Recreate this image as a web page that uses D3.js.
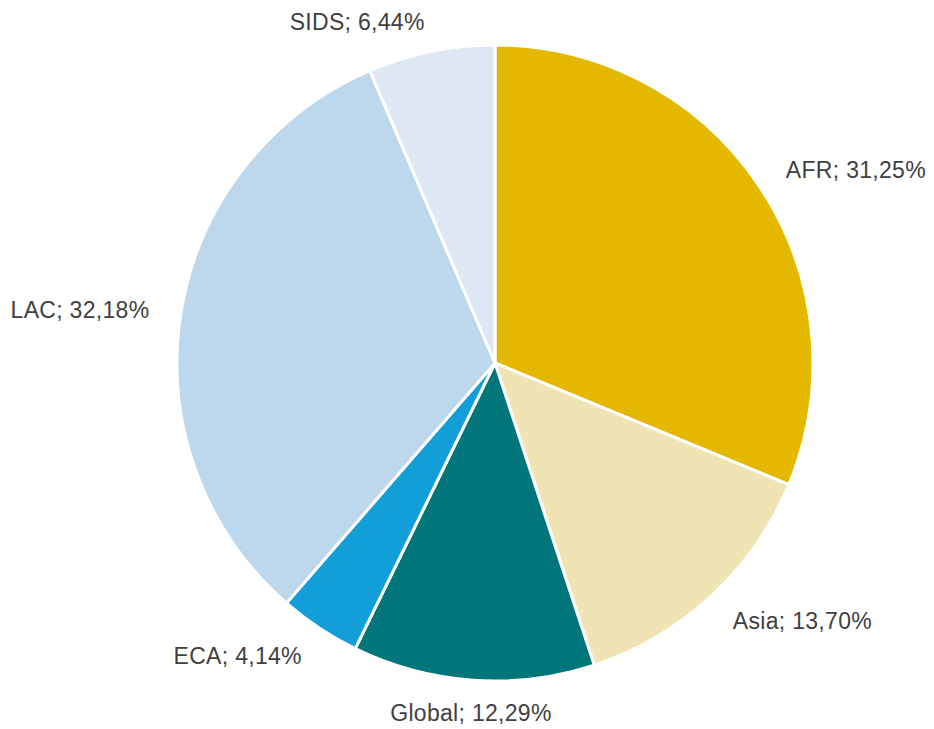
<!DOCTYPE html>
<html><head><meta charset="utf-8">
<script src="https://cdn.jsdelivr.net/npm/d3@7"></script>
<style>body{margin:0;background:#fff}svg{display:block}</style>
</head><body>
<script>
const categories = ["AFR", "Asia", "Global", "ECA", "LAC", "SIDS"];
const values = [31.25, 13.70, 12.29, 4.14, 32.18, 6.44];
const labels = ["AFR; 31,25%", "Asia; 13,70%", "Global; 12,29%", "ECA; 4,14%", "LAC; 32,18%", "SIDS; 6,44%"];
const colors = ["#E5B800", "#F0E4B5", "#00757A", "#129FD8", "#BDD7EC", "#DDE8F4"];

const W = 934, H = 729, cx = 495, cy = 363, r = 318;
const svg = d3.select("body").append("svg").attr("width", W).attr("height", H);
const g = svg.append("g").attr("transform", `translate(${cx},${cy})`);
const data = categories.map((c, i) => ({c, v: values[i], label: labels[i], color: colors[i]}));
const pie = d3.pie().value(d => d.v).sort(null);
const arcs = pie(data);
const arc = d3.arc().innerRadius(0).outerRadius(r);
g.selectAll("path").data(arcs).join("path")
  .attr("d", arc).attr("fill", d => d.data.color)
  .attr("stroke", "#fff").attr("stroke-width", 3).attr("stroke-linejoin", "round");
const labelArc = d3.arc().innerRadius(r * 1.1).outerRadius(r * 1.1);
g.selectAll("text").data(arcs).join("text")
  .attr("transform", d => { const [x, y] = labelArc.centroid(d); return `translate(${x},${y})`; })
  .attr("text-anchor", d => { const a = (d.startAngle + d.endAngle) / 2; const s = Math.sin(a); return s > 0.1 ? "start" : (s < -0.1 ? "end" : "middle"); })
  .attr("dy", "0.4em")
  .attr("font-family", "Liberation Sans, Arial, sans-serif")
  .attr("font-size", 23).attr("letter-spacing", 0.3).attr("fill", "#404040")
  .text(d => d.data.label);
</script>
</body></html>
